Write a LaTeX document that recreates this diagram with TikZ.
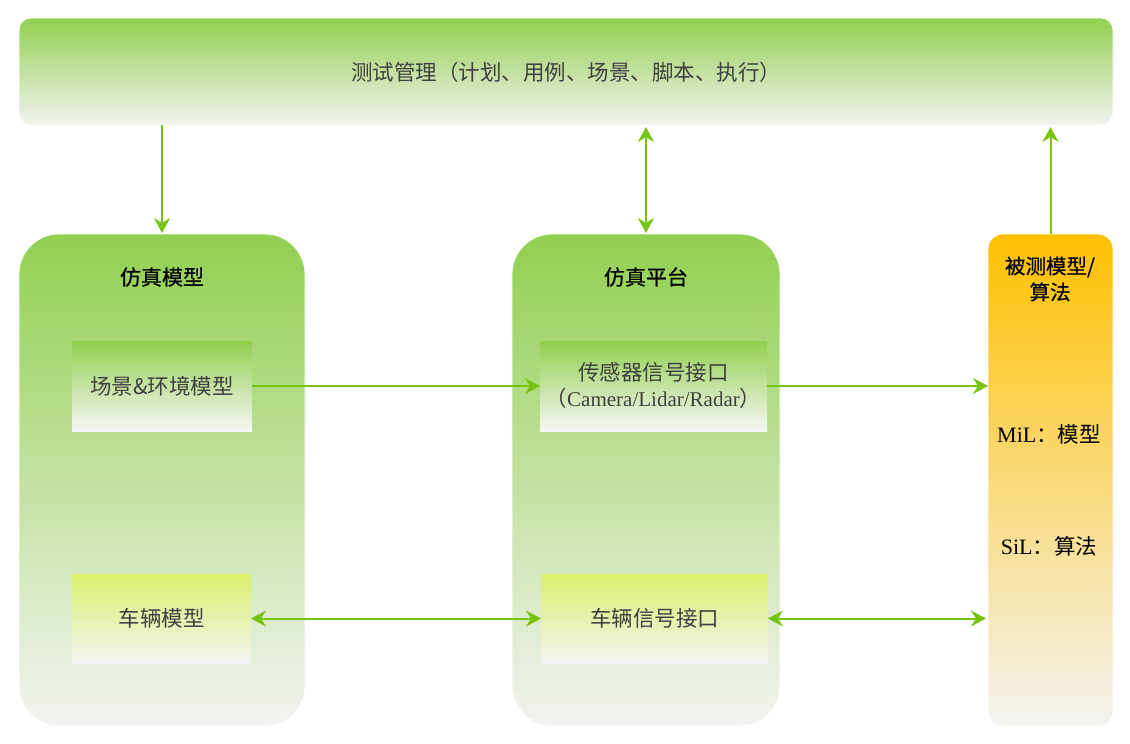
\documentclass[tikz,border=0pt]{standalone}
\usepackage{fontspec}
\setmainfont{Liberation Serif}
\newfontfamily\cjk{Noto Sans CJK SC}
\newfontfamily\cjkb{Noto Sans CJK SC}[FakeBold=0.6]
\usetikzlibrary{arrows.meta}
\definecolor{arrc}{RGB}{118,196,16}
\definecolor{gtop}{RGB}{146,208,80}
\definecolor{gbot}{RGB}{243,243,241}
\definecolor{ytop}{RGB}{217,240,108}
\definecolor{otop}{RGB}{255,192,0}
\definecolor{txt}{RGB}{64,64,64}
\tikzset{
  bigbox/.style={inner sep=0pt, outer sep=0pt, top color=gtop, bottom color=gbot, draw=white, line width=0.8pt, rounded corners=40pt},
  innerg/.style={inner sep=0pt, outer sep=0pt, top color=gtop, bottom color=gbot!70!white},
  innery/.style={inner sep=0pt, outer sep=0pt, top color=ytop, bottom color=gbot},
  lbl/.style={font=\cjk\fontsize{21.5}{26}\selectfont, text=txt, align=center},
  ttl/.style={font=\cjkb\fontsize{21}{26}\selectfont, text=black, align=center},
  tip/.tip={Stealth[length=15pt,width=16pt,inset=5pt]},
  conn/.style={draw=arrc, line width=2pt, -tip},
  conn2/.style={draw=arrc, line width=2pt, tip-tip}
}
\begin{document}
\begin{tikzpicture}[x=1pt,y=-1pt]
\useasboundingbox (0,0) rectangle (1130,744);
\fill[white] (0,0) rectangle (1130,744);
% top box
\node[inner sep=0pt, outer sep=0pt, top color=gtop, bottom color=gbot, draw=white, line width=0.8pt, rounded corners=12pt,
  minimum width=1094pt, minimum height=107pt] (top) at (566,71.5) {};
\node[lbl] (toptxt) at (566,72) {测试管理（计划、用例、场景、脚本、执行）};
% big boxes
\node[bigbox, minimum width=286pt, minimum height=492pt] (lb) at (162,480) {};
\node[bigbox, minimum width=268pt, minimum height=492pt] (mb) at (646,480) {};
\node[inner sep=0pt, outer sep=0pt, top color=otop, bottom color=gbot, draw=white, line width=0.8pt, rounded corners=15pt,
  minimum width=125pt, minimum height=492pt] (rb) at (1050.5,480) {};
% titles
\node[ttl] (lt) at (162,277) {仿真模型};
\node[ttl] (mt) at (646,277) {仿真平台};
\node[ttl, font=\cjkb\fontsize{20.5}{26}\selectfont] (rt) at (1050,279) {被测模型/\\算法};
% inner boxes
\node[innerg, minimum width=180pt, minimum height=90pt] (env) at (162,386) {};
\node[lbl] at (env.center) {场景\&环境模型};
\node[innerg, minimum width=227pt, minimum height=90pt] (sens) at (653.5,386) {};
\node[lbl] at (653.5,372) {传感器信号接口};
\node[lbl] at (653.5,398) {{\cjk （}{\rmfamily\fontsize{21}{25}\selectfont Camera/Lidar/Radar}{\cjk ）}};
\node[innery, minimum width=179pt, minimum height=89pt] (veh) at (161.5,618.5) {};
\node[lbl] at (veh.center) {车辆模型};
\node[innery, minimum width=227pt, minimum height=89pt] (vsig) at (654.5,618.5) {};
\node[lbl] at (vsig.center) {车辆信号接口};
% right texts
\node[ttl, font=\cjk\fontsize{21.5}{26}\selectfont] (mil) at (1049,434) {{\rmfamily\fontsize{22}{26}\selectfont MiL}：模型};
\node[ttl, font=\cjk\fontsize{21.5}{26}\selectfont] (sil) at (1049,546) {{\rmfamily\fontsize{22}{26}\selectfont SiL}：算法};
% connectors
\draw[conn, shorten >=1pt] (top.south -| lb.north) -- (lb.north);
\draw[conn2, shorten >=1pt, shorten <=2pt] (top.south -| mb.north) -- (mb.north);
\draw[conn, shorten >=2pt] (rb.north) -- (top.south -| rb.north);
\draw[conn] (env.east) -- (sens.west);
\draw[conn] (sens.east) -- (sens.east -| rb.west);
\draw[conn2] (veh.east) -- (vsig.west);
\draw[conn2, shorten >=2pt] (vsig.east) -- (vsig.east -| rb.west);
\end{tikzpicture}
\end{document}
